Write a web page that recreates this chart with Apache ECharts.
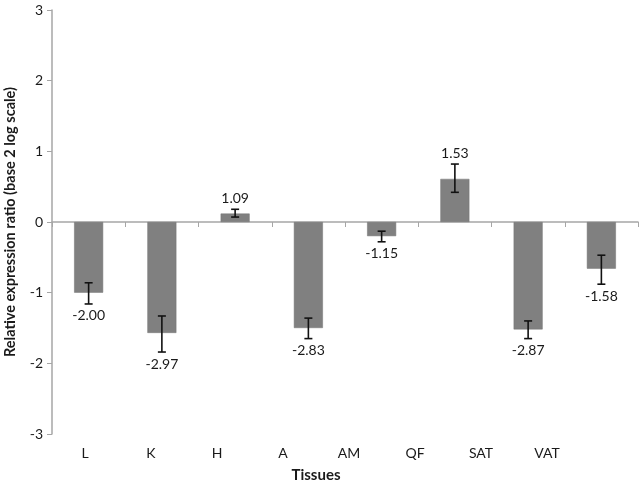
<!DOCTYPE html>
<html>
<head>
<meta charset="utf-8">
<script src="https://cdn.jsdelivr.net/npm/echarts@6/dist/echarts.min.js"></script>
<style>html,body{margin:0;padding:0;background:#fff}#c{width:640px;height:484px}</style>
</head>
<body>
<div id="c"></div>
<script>
var categories = ['L', 'K', 'H', 'A', 'AM', 'QF', 'SAT', 'VAT'];
var log2Ratio = [-1.00, -1.57, 0.12, -1.50, -0.20, 0.61, -1.52, -0.66];
var errLow = [-1.16, -1.84, 0.07, -1.65, -0.28, 0.42, -1.65, -0.88];
var errHigh = [-0.86, -1.33, 0.18, -1.36, -0.13, 0.82, -1.40, -0.47];
var foldLabels = ['-2.00', '-2.97', '1.09', '-2.83', '-1.15', '1.53', '-2.87', '-1.58'];
var yTicks = [-3, -2, -1, 0, 1, 2, 3];

var FONT = 'Lato, "Open Sans", sans-serif';
var chart = echarts.init(document.getElementById('c'));
var errData = categories.map(function (c, i) { return [i, errLow[i], errHigh[i], log2Ratio[i], foldLabels[i]]; });

chart.setOption({
  animation: false,
  grid: [
    { left: 52, right: 2, top: 10, bottom: 50, containLabel: false, outerBoundsMode: 'none' },
    { left: 52, right: 60, top: 10, bottom: 50, containLabel: false, outerBoundsMode: 'none' }
  ],
  xAxis: [
    {
      type: 'category', gridIndex: 0, data: categories,
      axisLine: { onZero: true, lineStyle: { color: '#a6a6a6', width: 1.5 } },
      axisTick: { show: true, length: 5, lineStyle: { color: '#a6a6a6' } },
      axisLabel: { show: false }
    },
    {
      type: 'category', gridIndex: 1, data: categories,
      axisLine: { show: false }, axisTick: { show: false },
      axisLabel: { show: true, margin: 12, fontSize: 14, color: '#1a1a1a', fontFamily: FONT },
      name: 'Tissues', nameLocation: 'middle', nameGap: 34,
      nameTextStyle: { fontSize: 15, fontWeight: 'bold', color: '#1a1a1a', fontFamily: FONT }
    }
  ],
  yAxis: [
    {
      type: 'value', gridIndex: 0, min: yTicks[0], max: yTicks[yTicks.length - 1], interval: 1,
      axisLine: { show: true, lineStyle: { color: '#a6a6a6', width: 1.5 } },
      axisTick: { show: true, length: 5, lineStyle: { color: '#a6a6a6' } },
      splitLine: { show: false },
      axisLabel: { margin: 9, fontSize: 14, color: '#1a1a1a', fontFamily: FONT },
      name: 'Relative expression ratio (base 2 log scale)', nameLocation: 'middle', nameGap: 34,
      nameTextStyle: { fontSize: 14.5, fontWeight: 'bold', color: '#1a1a1a', fontFamily: FONT }
    },
    { type: 'value', gridIndex: 1, min: -3, max: 3, show: false }
  ],
  series: [
    {
      type: 'bar', xAxisIndex: 0, yAxisIndex: 0, data: log2Ratio, barWidth: 29, z: 2,
      itemStyle: { color: '#808080', borderColor: '#747474', borderWidth: 0.5 }
    },
    {
      type: 'custom', xAxisIndex: 0, yAxisIndex: 0, data: errData, z: 5,
      encode: { x: 0, y: [1, 2] },
      renderItem: function (params, api) {
        var i = api.value(0);
        var lo = api.coord([i, api.value(1)]);
        var hi = api.coord([i, api.value(2)]);
        var v = api.value(3);
        var x = lo[0], cap = 4;
        var style = { stroke: '#111', lineWidth: 1.6 };
        var labelY = v < 0 ? lo[1] + 12 : hi[1] - 11;
        return {
          type: 'group',
          children: [
            { type: 'line', shape: { x1: x, y1: lo[1], x2: x, y2: hi[1] }, style: style },
            { type: 'line', shape: { x1: x - cap, y1: lo[1], x2: x + cap, y2: lo[1] }, style: style },
            { type: 'line', shape: { x1: x - cap, y1: hi[1], x2: x + cap, y2: hi[1] }, style: style },
            { type: 'text', style: { text: foldLabels[params.dataIndex], x: x, y: labelY, textAlign: 'center', textVerticalAlign: 'middle', fontSize: 14, fill: '#1a1a1a', fontFamily: FONT } }
          ]
        };
      }
    }
  ]
});
</script>
</body>
</html>
